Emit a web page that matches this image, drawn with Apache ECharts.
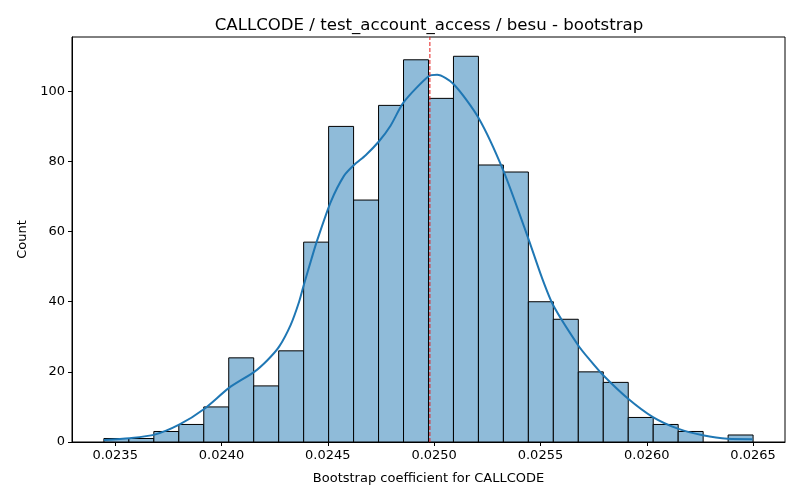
<!DOCTYPE html>
<html>
<head>
<meta charset="UTF-8">
<script type="text/javascript" src="https://cdn.jsdelivr.net/npm/echarts@6/dist/echarts.min.js"></script>
<title>CALLCODE bootstrap</title>
<style>
	html, body { margin: 0; padding: 0; background: #fff; }
	#main { width: 800px; height: 500px; }
</style>
</head>
<body>
<div id="main"></div>
<script>
	// histogram bins (uniform width)
	var binStart = 0.023447;
	var binWidth = 0.00011742;
	var binCounts = [1, 1, 3, 5, 10, 24, 16, 26, 57, 90, 69, 96, 109, 98, 110, 79, 77, 40, 35, 20, 17, 7, 5, 3, 0, 2];

	// kde curve
	var kdeX = [0.023447, 0.023568, 0.023686, 0.023803, 0.023920, 0.024037, 0.024154, 0.024217, 0.024271, 0.024326,
		0.024365, 0.024388, 0.024427, 0.024451, 0.024514, 0.024576, 0.024623, 0.024678, 0.024740, 0.024795,
		0.024857, 0.024974, 0.025014, 0.025091, 0.025209, 0.025326, 0.025443, 0.025506, 0.025560, 0.025677,
		0.025732, 0.025794, 0.025911, 0.026029, 0.026146, 0.026263, 0.026380, 0.026497];
	var kdeY = [0.6, 1.1, 2.1, 5.0, 9.5, 15.5, 20.0, 23.4, 27.2, 33.5,
		40.0, 45.0, 53.0, 57.7, 68.5, 75.9, 79.0, 81.8, 85.7, 90.2,
		96.9, 104.3, 104.7, 102.1, 92.4, 77.3, 58.0, 47.0, 39.0, 27.6,
		23.4, 19.1, 12.4, 7.1, 3.8, 1.9, 0.9, 0.8];

	var meanValue = 0.02498;
	var xTicks = [0.0235, 0.0240, 0.0245, 0.0250, 0.0255, 0.0260, 0.0265];
	var yTicks = [0, 20, 40, 60, 80, 100];

	var barData = [];
	for (var i = 0; i < binCounts.length; i++) {
		barData.push([binStart + binWidth * i, binStart + binWidth * (i + 1), binCounts[i]]);
	}
	var kdeData = [];
	for (var j = 0; j < kdeX.length; j++) {
		kdeData.push([kdeX[j], kdeY[j]]);
	}

	var font = 'DejaVu Sans';
	var yMax = 115.5;
	var myChart = echarts.init(document.getElementById('main'));
	myChart.setOption({
		animation: false,
		backgroundColor: '#fff',
		title: {
			text: 'CALLCODE / test_account_access / besu - bootstrap',
			left: 424,
			top: 12,
			textAlign: 'center',
			textStyle: { fontFamily: font, fontSize: 16.6, fontWeight: 'normal', color: '#000' }
		},
		grid: {
			left: 72,
			right: 15,
			top: 37,
			bottom: 58,
			show: true,
			borderColor: '#000',
			borderWidth: 1,
			backgroundColor: 'transparent'
		},
		xAxis: {
			type: 'value',
			min: 0.023297,
			max: 0.02665,
			name: 'Bootstrap coefficient for CALLCODE',
			nameLocation: 'middle',
			nameGap: 30,
			nameTextStyle: { fontFamily: font, fontSize: 13, color: '#000' },
			axisLine: { show: true, onZero: false, lineStyle: { color: '#000' } },
			axisTick: { show: true, inside: false, length: 4, customValues: xTicks, lineStyle: { color: '#000' } },
			axisLabel: {
				customValues: xTicks,
				fontFamily: font, fontSize: 13, color: '#000', margin: 7,
				formatter: function(v) { return v.toFixed(4); }
			},
			splitLine: { show: false }
		},
		yAxis: {
			type: 'value',
			min: 0,
			max: yMax,
			name: 'Count',
			nameLocation: 'middle',
			nameGap: 43,
			nameTextStyle: { fontFamily: font, fontSize: 13, color: '#000' },
			axisLine: { show: true, lineStyle: { color: '#000' } },
			axisTick: { show: true, inside: false, length: 4, customValues: yTicks, lineStyle: { color: '#000' } },
			axisLabel: { customValues: yTicks, fontFamily: font, fontSize: 13, color: '#000', margin: 7 },
			splitLine: { show: false }
		},
		series: [
			{
				name: 'hist',
				type: 'custom',
				data: barData,
				encode: { x: [0, 1], y: 2 },
				renderItem: function(params, api) {
					var h = api.value(2);
					if (h <= 0) return null;
					var p0 = api.coord([api.value(0), h]);
					var p1 = api.coord([api.value(1), 0]);
					return {
						type: 'rect',
						shape: { x: p0[0], y: p0[1], width: p1[0] - p0[0], height: p1[1] - p0[1] },
						style: { fill: '#8fbbd9', stroke: '#000', lineWidth: 1 }
					};
				},
				z: 2
			},
			{
				name: 'kde',
				type: 'line',
				data: kdeData,
				smooth: 0.25,
				showSymbol: false,
				lineStyle: { color: '#1f77b4', width: 2 },
				z: 3
			},
			{
				name: 'mean',
				type: 'line',
				data: [[meanValue, 0], [meanValue, yMax]],
				showSymbol: false,
				lineStyle: { color: '#e41a1a', width: 1, type: [4, 2] },
				z: 4
			}
		]
	});
</script>
</body>
</html>
